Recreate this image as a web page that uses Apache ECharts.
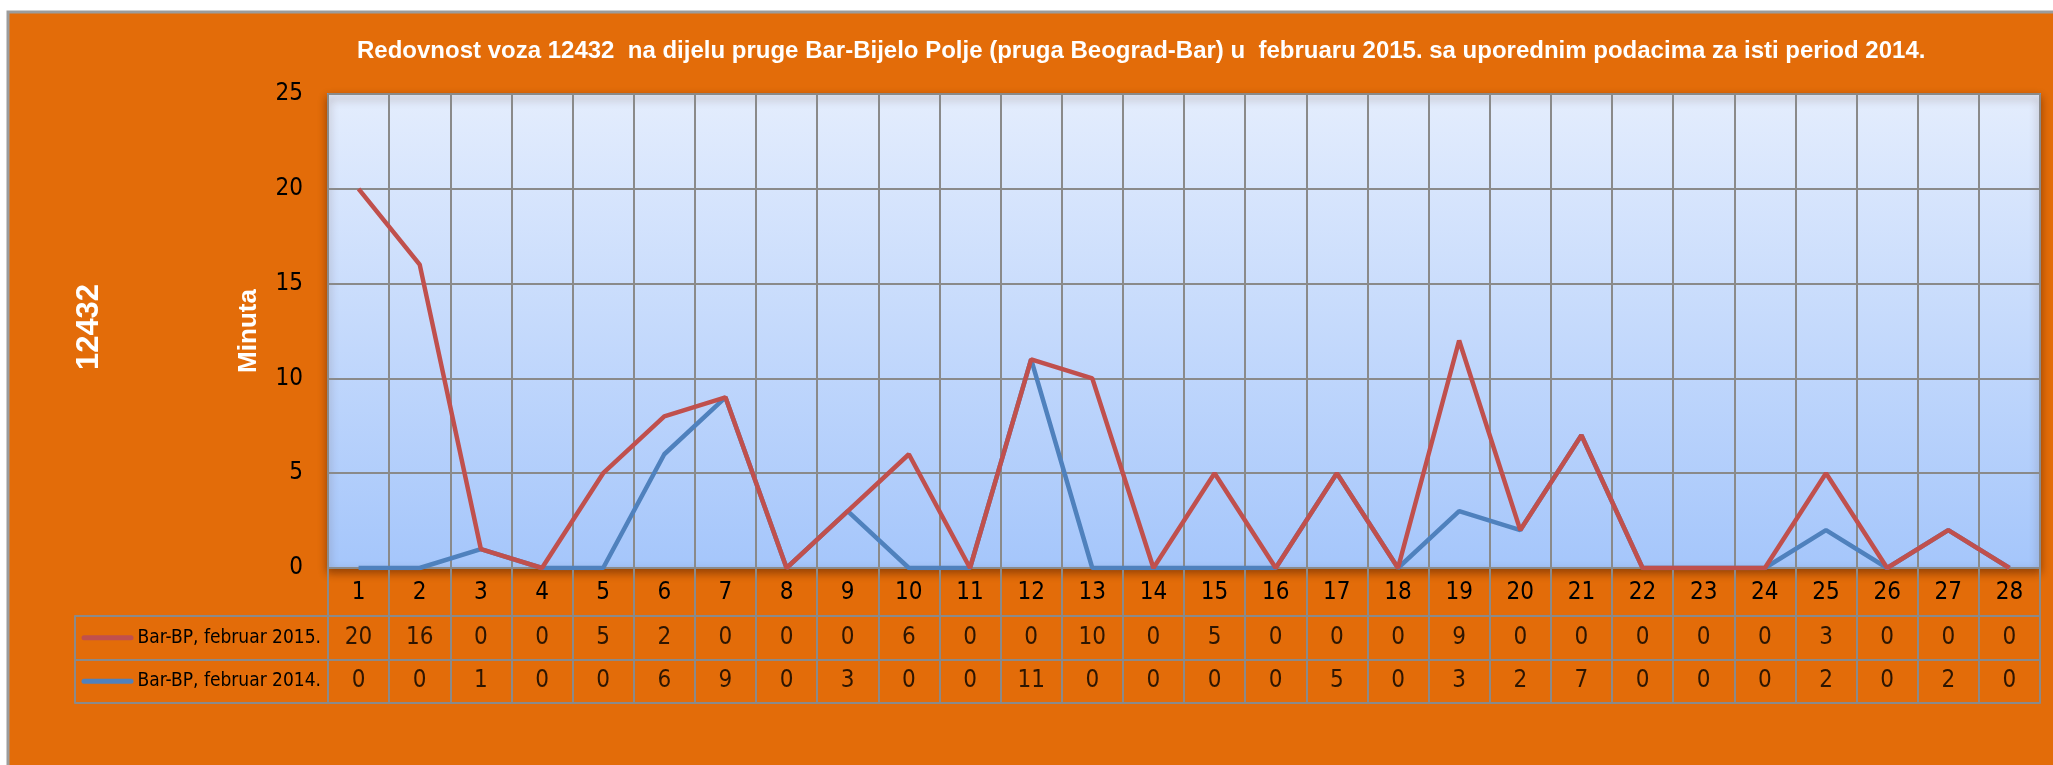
<!DOCTYPE html>
<html>
<head>
<meta charset="utf-8">
<script src="https://cdn.jsdelivr.net/npm/echarts@6/dist/echarts.min.js"></script>
<style>
html,body{margin:0;padding:0;background:#ffffff;}
#c{width:2053px;height:765px;}
</style>
</head>
<body>
<div id="c"></div>
<script>
const titleText = 'Redovnost voza 12432  na dijelu pruge Bar-Bijelo Polje (pruga Beograd-Bar) u  februaru 2015. sa uporednim podacima za isti period 2014.';
const trainLabel = '12432';
const yAxisName = 'Minuta';
const days = ['1','2','3','4','5','6','7','8','9','10','11','12','13','14','15','16','17','18','19','20','21','22','23','24','25','26','27','28'];
const series2015Name = 'Bar-BP, februar 2015.';
const series2014Name = 'Bar-BP, februar 2014.';
const v2015 = [20,16,0,0,5,2,0,0,0,6,0,0,10,0,5,0,0,0,9,0,0,0,0,0,3,0,0,0];
const v2014 = [0,0,1,0,0,6,9,0,3,0,0,11,0,0,0,0,5,0,3,2,7,0,0,0,2,0,2,0];
const yTicks = [0,5,10,15,20,25];

const ORANGE = '#E36C09';
const RED = '#C0504D';
const BLUE = '#4F81BD';
const GRIDC = '#8a8a8a';
const NARROW = "'Liberation Sans Narrow','DejaVu Sans Condensed','Arial Narrow',sans-serif";

const rows = [series2015Name, series2014Name];
const tableData = [];
days.forEach((d, i) => {
  tableData.push([d, series2015Name, v2015[i]]);
  tableData.push([d, series2014Name, v2014[i]]);
});

const chart = echarts.init(document.getElementById('c'), null, {renderer: 'canvas'});
chart.setOption({
  backgroundColor: '#ffffff',
  animation: false,
  title: {
    text: titleText,
    left: 352, top: 34,
    textStyle: {color: '#ffffff', fontFamily: 'Liberation Sans, Arial, sans-serif', fontWeight: 'bold', fontSize: 24}
  },
  graphic: [
    {type: 'rect', z: -10, shape: {x: 8, y: 12, width: 2200, height: 900},
      style: {fill: ORANGE, stroke: '#9c9c9c', lineWidth: 3}},
    {type: 'text', z: 10, x: 89, y: 327, rotation: Math.PI / 2,
      style: {text: trainLabel, fill: '#ffffff', font: 'bold 31px "Liberation Sans", Arial, sans-serif', align: 'center', verticalAlign: 'middle'}}
  ],
  grid: [
    {left: 328, right: 13, top: 94, bottom: 197, show: true,
      backgroundColor: {type: 'linear', x: 0, y: 0, x2: 0, y2: 1,
        colorStops: [{offset: 0, color: '#E4EDFD'}, {offset: 1, color: '#A5C6FB'}]},
      borderColor: '#6E92C8', borderWidth: 2,
      shadowColor: 'rgba(60,20,0,0.45)', shadowBlur: 8, shadowOffsetY: 4},
    {left: 328, right: 13, top: 616, bottom: 62}
  ],
  xAxis: [
    {type: 'category', gridIndex: 0, data: days, boundaryGap: true,
      axisLine: {show: true, lineStyle: {color: GRIDC, width: 2}},
      axisTick: {show: true, interval: 0, length: 48, lineStyle: {color: GRIDC, width: 2}},
      axisLabel: {interval: 0, margin: 13, color: '#000', fontFamily: NARROW, fontSize: 24},
      splitLine: {show: true, interval: 0, lineStyle: {color: GRIDC, width: 2}}},
    {type: 'category', gridIndex: 1, data: days, boundaryGap: true,
      axisLine: {show: true, lineStyle: {color: GRIDC, width: 2}},
      axisTick: {show: false}, axisLabel: {show: false},
      splitLine: {show: true, interval: 0, lineStyle: {color: GRIDC, width: 2}}}
  ],
  yAxis: [
    {type: 'value', gridIndex: 0, min: 0, max: 25, interval: 5,
      name: yAxisName, nameLocation: 'middle', nameRotate: 90, nameGap: 66,
      nameTextStyle: {color: '#ffffff', fontWeight: 'bold', fontSize: 26, fontFamily: 'Liberation Sans, Arial, sans-serif'},
      axisLine: {show: false}, axisTick: {show: false},
      axisLabel: {margin: 25, color: '#000', fontFamily: NARROW, fontSize: 24,
        formatter: v => (yTicks.indexOf(v) >= 0 ? String(v) : '')},
      splitLine: {show: true, lineStyle: {color: GRIDC, width: 2}}},
    {type: 'category', gridIndex: 1, data: rows, inverse: true, boundaryGap: true,
      axisLine: {show: true, lineStyle: {color: GRIDC, width: 2}},
      axisTick: {show: true, interval: 0, length: 253, lineStyle: {color: GRIDC, width: 2}},
      axisLabel: {margin: 7, align: 'right',
        formatter: (v) => (v === series2015Name ? '{r|}' : '{b|}') + '{t|' + v + '}',
        rich: {
          r: {width: 52, height: 5, backgroundColor: RED, borderRadius: 3},
          b: {width: 52, height: 5, backgroundColor: BLUE, borderRadius: 3},
          t: {color: '#000', fontFamily: NARROW, fontSize: 19, padding: [0, 0, 0, 4]}
        }},
      splitLine: {show: true, lineStyle: {color: GRIDC, width: 2}}},
    {type: 'category', gridIndex: 1, data: rows, inverse: true, position: 'left', offset: 253,
      axisLine: {show: true, lineStyle: {color: GRIDC, width: 2}},
      axisTick: {show: false}, axisLabel: {show: false}, splitLine: {show: false}}
  ],
  series: [
    {name: series2014Name, type: 'line', stack: 'total', xAxisIndex: 0, yAxisIndex: 0,
      data: v2014, showSymbol: false, symbol: 'none',
      lineStyle: {color: BLUE, width: 4.5}, itemStyle: {color: BLUE}},
    {name: series2015Name, type: 'line', stack: 'total', xAxisIndex: 0, yAxisIndex: 0,
      data: v2015, showSymbol: false, symbol: 'none',
      lineStyle: {color: RED, width: 4.5}, itemStyle: {color: RED}},
    {name: 'table', type: 'scatter', xAxisIndex: 1, yAxisIndex: 1,
      data: tableData, symbolSize: 1, itemStyle: {color: 'rgba(0,0,0,0)'},
      label: {show: true, position: 'inside', color: '#000', fontFamily: NARROW, fontSize: 24,
        formatter: p => String(p.value[2])}}
  ]
});
</script>
</body>
</html>
